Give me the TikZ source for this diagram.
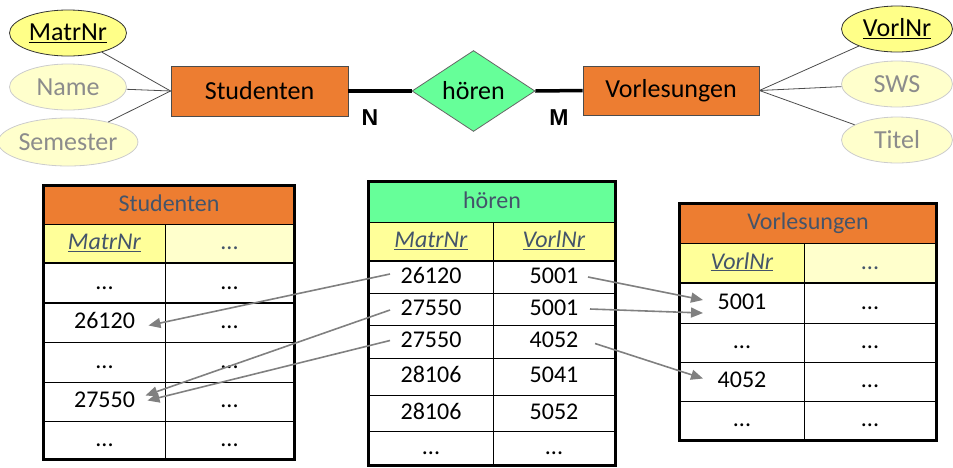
\documentclass[tikz,border=0pt]{standalone}
\usepackage{fontspec}
\setmainfont{Carlito}
\newfontfamily\lblfont{Liberation Sans}
\usetikzlibrary{shapes.geometric,arrows.meta,calc}
\definecolor{ora}{HTML}{ED7D31}
\definecolor{grn}{HTML}{66FF99}
\definecolor{keyy}{HTML}{FFFF88}
\definecolor{paley}{HTML}{FFFFCC}
\definecolor{keyc}{HTML}{FFFF99}
\definecolor{hdrtxt}{HTML}{44546A}
\definecolor{attrtxt}{HTML}{8C8C8C}
\definecolor{arr}{HTML}{808080}
\tikzset{
  ent/.style={draw=black!70, line width=0.8pt, fill=ora, font=\fontsize{26}{28}\selectfont, inner sep=0, minimum width=177pt, minimum height=50pt},
  keyattr/.style={ellipse, draw=black!80, line width=0.8pt, fill=keyy, font=\fontsize{26}{28}\selectfont, inner sep=0, minimum width=117pt, minimum height=46pt},
  attr/.style={ellipse, draw=black!20, line width=0.8pt, fill=paley, text=attrtxt, font=\fontsize{26}{28}\selectfont, inner sep=0, minimum width=117pt, minimum height=46pt},
  attrline/.style={draw=black!70, line width=0.8pt},
  relline/.style={draw=black, line width=3.5pt},
  card/.style={font=\lblfont\bfseries\fontsize{23}{24}\selectfont, inner sep=0},
  cell/.style={draw=black, line width=1pt, inner sep=0, text height=17pt, text depth=5pt, font=\fontsize{24}{26}\selectfont},
  hdr/.style={cell, text=hdrtxt},
  outer/.style={draw=black, line width=2.5pt},
  fk/.style={draw=arr, line width=1.6pt, -{Triangle[length=12pt,width=10pt]}},
}
\newcommand{\keytxt}[1]{\textcolor{hdrtxt}{\underline{\textit{#1}}}}
\begin{document}
\begin{tikzpicture}[x=1pt,y=-1pt]
\useasboundingbox (0,0) rectangle (953,467);
% ---------- ER part ----------
\node[keyattr] (ma) at (68,33) {\underline{MatrNr}};
\node[attr] (na) at (68,87) {Name};
\node[attr, minimum height=48pt] (se) at (68,142) {Semester};
\node[ent] (stu) at (259.5,91) {Studenten};
\node[diamond, draw=black!60, line width=0.8pt, fill=grn, inner sep=0, minimum width=123pt, minimum height=78pt, font=\fontsize{26}{28}\selectfont] (dia) at (473.5,91) {hören};
\node[ent, minimum width=176pt, minimum height=49pt] (vl) at (671,90.5) {Vorlesungen};
\node[keyattr, minimum width=111pt] (vn) at (897,29) {\underline{VorlNr}};
\node[attr, minimum width=111pt] (sw) at (897,84) {SWS};
\node[attr, minimum width=111pt] (ti) at (897,140) {Titel};
\draw[attrline] (ma) -- (stu.west);
\draw[attrline] (na) -- (stu.west);
\draw[attrline] (se) -- (stu.west);
\draw[attrline] (vl.east) -- (vn);
\draw[attrline] (vl.east) -- (sw);
\draw[attrline] (vl.east) -- (ti);
\draw[relline] (stu.east) -- (dia.west);
\draw[relline] (dia.east) -- (vl.west);
\node[card] (n) at (370,118) {N};
\node[card] (m) at (559,118) {M};
% ---------- Studenten table ----------
\begin{scope}[every node/.append style={minimum height=39pt}]
\node[hdr, fill=ora, minimum width=250pt, minimum height=38pt] (sH) at (169,205) {Studenten};
\node[cell, fill=keyc, minimum width=121pt] (sk1) at (104.5,243.5) {\keytxt{MatrNr}};
\node[cell, fill=paley, minimum width=129pt, text=hdrtxt] (sk2) at (229.5,243.5) {...};
\node[cell, minimum width=121pt, minimum height=40pt] (s11) at (104.5,283) {...};
\node[cell, minimum width=129pt, minimum height=40pt] (s12) at (229.5,283) {...};
\node[cell, minimum width=121pt] (s21) at (104.5,322.5) {26120};
\node[cell, minimum width=129pt] (s22) at (229.5,322.5) {...};
\node[cell, minimum width=121pt, minimum height=40pt] (s31) at (104.5,362) {...};
\node[cell, minimum width=129pt, minimum height=40pt] (s32) at (229.5,362) {...};
\node[cell, minimum width=121pt] (s41) at (104.5,401.5) {27550};
\node[cell, minimum width=129pt] (s42) at (229.5,401.5) {...};
\node[cell, minimum width=121pt, minimum height=38pt] (s51) at (104.5,440) {...};
\node[cell, minimum width=129pt, minimum height=38pt] (s52) at (229.5,440) {...};
\end{scope}
\draw[outer] (sH.north west) rectangle (s52.south east);
\draw[draw=black, line width=2pt] (s11.north west) -- (s12.north east);
\draw[draw=black, line width=2pt] (s21.north west) -- (s22.north east);
% ---------- hoeren table ----------
\node[hdr, fill=grn, minimum width=246pt, minimum height=40pt] (hH) at (492,202) {hören};
\node[cell, fill=keyc, minimum width=124pt, minimum height=39pt] (hk1) at (431,241.5) {\keytxt{MatrNr}};
\node[cell, fill=keyc, minimum width=122pt, minimum height=39pt] (hk2) at (554,241.5) {\keytxt{VorlNr}};
\node[cell, minimum width=124pt, minimum height=32pt] (h11) at (431,277) {26120};
\node[cell, minimum width=122pt, minimum height=32pt] (h12) at (554,277) {5001};
\node[cell, minimum width=124pt, minimum height=32pt] (h21) at (431,309) {27550};
\node[cell, minimum width=122pt, minimum height=32pt] (h22) at (554,309) {5001};
\node[cell, minimum width=124pt, minimum height=33pt] (h31) at (431,341.5) {27550};
\node[cell, minimum width=122pt, minimum height=33pt] (h32) at (554,341.5) {4052};
\node[cell, minimum width=124pt, minimum height=37pt] (h41) at (431,376.5) {28106};
\node[cell, minimum width=122pt, minimum height=37pt] (h42) at (554,376.5) {5041};
\node[cell, minimum width=124pt, minimum height=36pt] (h51) at (431,413) {28106};
\node[cell, minimum width=122pt, minimum height=36pt] (h52) at (554,413) {5052};
\node[cell, minimum width=124pt, minimum height=34pt] (h61) at (431,448) {...};
\node[cell, minimum width=122pt, minimum height=34pt] (h62) at (554,448) {...};
\draw[outer] (hH.north west) rectangle (h62.south east);
\draw[draw=black, line width=2pt] (h11.north west) -- (h12.north east);
% ---------- Vorlesungen table ----------
\node[hdr, fill=ora, minimum width=256pt, minimum height=39pt] (vH) at (808,223.5) {Vorlesungen};
\node[cell, fill=keyc, minimum width=124pt, minimum height=40pt] (vk1) at (742,263) {\keytxt{VorlNr}};
\node[cell, fill=paley, minimum width=132pt, minimum height=40pt, text=hdrtxt] (vk2) at (870,263) {...};
\node[cell, minimum width=124pt, minimum height=40pt] (v11) at (742,303) {5001};
\node[cell, minimum width=132pt, minimum height=40pt] (v12) at (870,303) {...};
\node[cell, minimum width=124pt, minimum height=39pt] (v21) at (742,342.5) {...};
\node[cell, minimum width=132pt, minimum height=39pt] (v22) at (870,342.5) {...};
\node[cell, minimum width=124pt, minimum height=39pt] (v31) at (742,381.5) {4052};
\node[cell, minimum width=132pt, minimum height=39pt] (v32) at (870,381.5) {...};
\node[cell, minimum width=124pt, minimum height=39pt] (v41) at (742,420.5) {...};
\node[cell, minimum width=132pt, minimum height=39pt] (v42) at (870,420.5) {...};
\draw[outer] (vH.north west) rectangle (v42.south east);
\draw[draw=black, line width=2pt] (v11.north west) -- (v12.north east);
% ---------- foreign key arrows ----------
\draw[fk] ($(h11.center)+(-41,-3)$) -- ($(s21.center)+(44,3)$);
\draw[fk] ($(h21.center)+(-41,1)$) -- ($(s41.center)+(41,-6)$);
\draw[fk] ($(h31.center)+(-41,-1)$) -- ($(s41.center)+(43,-1)$);
\draw[fk] ($(h12.center)+(34,0)$) -- ($(v11.center)+(-39,-3)$);
\draw[fk] ($(h22.center)+(36,0)$) -- ($(v11.center)+(-39,10)$);
\draw[fk] ($(h32.center)+(41,2)$) -- ($(v31.center)+(-39,-3)$);
\end{tikzpicture}
\end{document}
